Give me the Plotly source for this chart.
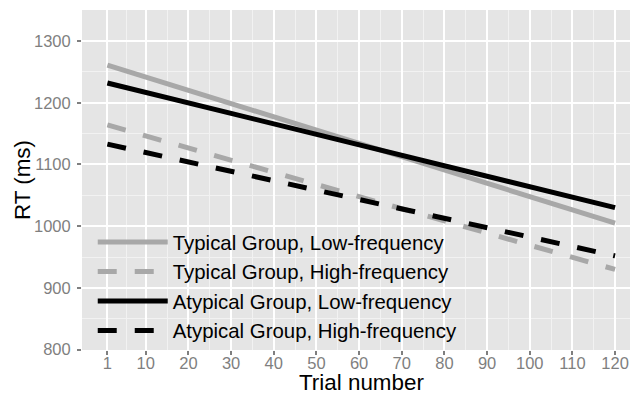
import plotly.graph_objects as go

# Fitted RT trends over trials, one straight line per group/frequency condition
trial_ends = [1, 120]
typical_low = [1261, 1005]
typical_high = [1164, 930]
atypical_low = [1232, 1030]
atypical_high = [1133, 952]

series_names = [
    "Typical Group, Low-frequency",
    "Typical Group, High-frequency",
    "Atypical Group, Low-frequency",
    "Atypical Group, High-frequency",
]
series_values = [typical_low, typical_high, atypical_low, atypical_high]

x_ticks = [1, 10, 20, 30, 40, 50, 60, 70, 80, 90, 100, 110, 120]
x_minor = [5.5, 15, 25, 35, 45, 55, 65, 75, 85, 95, 105, 115]
y_ticks = [800, 900, 1000, 1100, 1200, 1300]

GREY = "#A8A8A8"
styles = [
    dict(color=GREY, dash="solid"),
    dict(color=GREY, dash="19px,18px"),
    dict(color="black", dash="solid"),
    dict(color="black", dash="19px,18px"),
]

FONT = "Liberation Sans, Arial, sans-serif"

fig = go.Figure()
for name, vals, st in zip(series_names, series_values, styles):
    fig.add_trace(go.Scatter(
        x=trial_ends, y=vals, mode="lines", name=name,
        line=dict(color=st["color"], dash=st["dash"], width=5),
    ))

fig.update_layout(
    width=630, height=393,
    margin=dict(l=82, r=0, t=10, b=43),
    paper_bgcolor="white",
    plot_bgcolor="#E5E5E5",
    font=dict(family=FONT),
    showlegend=True,
    legend=dict(
        x=0.0196, y=0.376, xanchor="left", yanchor="top",
        bgcolor="rgba(0,0,0,0)",
        font=dict(size=20.4, color="black", family=FONT),
        itemwidth=70,
        tracegroupgap=0,
    ),
    xaxis=dict(
        range=[-4.95, 123.5],
        tickvals=x_ticks, ticktext=[str(v) for v in x_ticks],
        ticks="outside", ticklen=4, tickwidth=1.5, tickcolor="#7F7F7F",
        tickfont=dict(size=16.5, color="#7F7F7F", family=FONT),
        ticklabelstandoff=-6,
        showgrid=True, gridcolor="white", gridwidth=2,
        minor=dict(tickvals=x_minor, showgrid=True, gridcolor="#F2F2F2", gridwidth=1, ticks=""),
        zeroline=False, showline=False,
    ),
    yaxis=dict(
        range=[799.5, 1350.2],
        tickvals=y_ticks, ticktext=[str(v) for v in y_ticks],
        ticks="outside", ticklen=4, tickwidth=1.5, tickcolor="#7F7F7F",
        tickfont=dict(size=16.5, color="#7F7F7F", family=FONT),
        ticklabelstandoff=3,
        showgrid=True, gridcolor="white", gridwidth=2,
        minor=dict(dtick=50, tick0=800, showgrid=True, gridcolor="#F2F2F2", gridwidth=1, ticks=""),
        zeroline=False, showline=False,
    ),
    annotations=[
        dict(text="Trial number", xref="paper", yref="paper",
             x=(361 - 82) / 548, y=(350 - 382) / 340,
             xanchor="center", yanchor="middle", showarrow=False,
             font=dict(size=22.4, color="black", family=FONT)),
        dict(text="RT (ms)", xref="paper", yref="paper",
             x=(22 - 82) / 548, y=0.5, textangle=-90,
             xanchor="center", yanchor="middle", showarrow=False,
             font=dict(size=22.4, color="black", family=FONT)),
    ],
)

fig.write_html("out.html")
